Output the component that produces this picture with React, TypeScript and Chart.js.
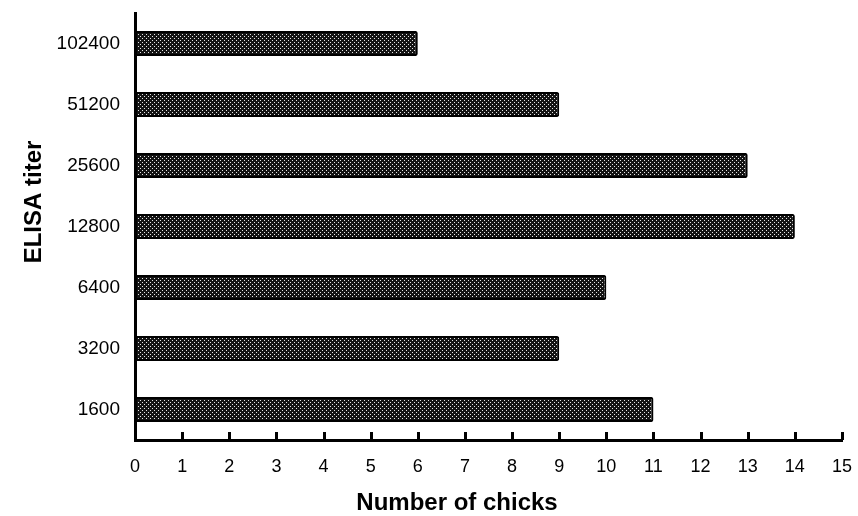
import React, { useEffect, useRef } from "react";
import { Chart, registerables } from "chart.js";

Chart.register(...registerables);

const categories = ["1600", "3200", "6400", "12800", "25600", "51200", "102400"];
const chickCounts = [11, 9, 10, 14, 13, 9, 6];
const xMin = 0;
const xMax = 15;
const xStep = 1;
const xTitle = "Number of chicks";
const yTitle = "ELISA titer";

const FONT = "'Liberation Sans', Arial, sans-serif";

function makePattern(): CanvasPattern | string {
  const c = document.createElement("canvas");
  c.width = 4;
  c.height = 4;
  const g = c.getContext("2d");
  if (!g) return "#333";
  g.fillStyle = "#141414";
  g.fillRect(0, 0, 4, 4);
  g.fillStyle = "#e6e6e6";
  g.fillRect(0, 0, 1, 1);
  g.fillRect(2, 2, 1, 1);
  const p = g.createPattern(c, "repeat");
  return p || "#333";
}

const decorPlugin = {
  id: "decor",
  afterDraw(chart: any) {
    const ctx = chart.ctx;
    const xs = chart.scales.x;
    const area = chart.chartArea;
    ctx.save();
    ctx.strokeStyle = "#000";
    ctx.lineWidth = 3;
    for (let v = xMin + xStep; v <= xMax; v += xStep) {
      const px = Math.round(xs.getPixelForValue(v)) + 0.5;
      ctx.beginPath();
      ctx.moveTo(px, area.bottom);
      ctx.lineTo(px, area.bottom - 8);
      ctx.stroke();
    }
    ctx.fillStyle = "#000";
    ctx.textAlign = "center";
    ctx.textBaseline = "middle";
    ctx.font = `bold 24px ${FONT}`;
    ctx.fillText(xTitle, 457, 503);
    ctx.translate(34, 202);
    ctx.rotate(-Math.PI / 2);
    ctx.font = `bold 24px ${FONT}`;
    ctx.fillText(yTitle, 0, 0);
    ctx.restore();
  },
};

export default function App() {
  const ref = useRef<HTMLCanvasElement>(null);
  useEffect(() => {
    if (!ref.current) return;
    const pattern = makePattern();
    const chart = new Chart(ref.current, {
      type: "bar",
      data: {
        labels: categories,
        datasets: [
          {
            data: chickCounts,
            backgroundColor: pattern as any,
            borderColor: "#000",
            borderWidth: 2,
            borderRadius: 2,
            borderSkipped: false,
            categoryPercentage: 1,
            barPercentage: 0.41,
          },
        ],
      },
      options: {
        indexAxis: "y",
        responsive: false,
        animation: false,
        layout: { padding: { top: 13, right: 16, left: 0, bottom: 0 } },
        plugins: {
          legend: { display: false },
          tooltip: { enabled: false },
          title: { display: false },
        },
        scales: {
          x: {
            type: "linear",
            min: xMin,
            max: xMax,
            grid: { display: false },
            border: { display: true, color: "#000", width: 3 },
            ticks: {
              stepSize: xStep,
              color: "#000",
              font: { family: FONT, size: 18 },
              padding: 8,
              maxRotation: 0,
            },
            afterFit(scale: any) {
              scale.height = 76;
              scale.paddingLeft = 0;
              scale.paddingRight = 0;
              scale.paddingTop = 0;
              scale.paddingBottom = 0;
            },
          },
          y: {
            type: "category",
            reverse: true,
            grid: { display: false },
            border: { display: true, color: "#000", width: 3 },
            ticks: {
              color: "#000",
              font: { family: FONT, size: 19 },
              padding: 7,
            },
            afterFit(scale: any) {
              scale.width = 135;
              scale.paddingLeft = 0;
              scale.paddingRight = 0;
              scale.paddingTop = 0;
              scale.paddingBottom = 0;
            },
          },
        },
      },
      plugins: [decorPlugin],
    });
    return () => chart.destroy();
  }, []);
  return (
    <div style={{ position: "fixed", left: 0, top: 0, width: 858, height: 516, background: "#fff" }}>
      <canvas ref={ref} width={858} height={516} style={{ display: "block" }} />
    </div>
  );
}
